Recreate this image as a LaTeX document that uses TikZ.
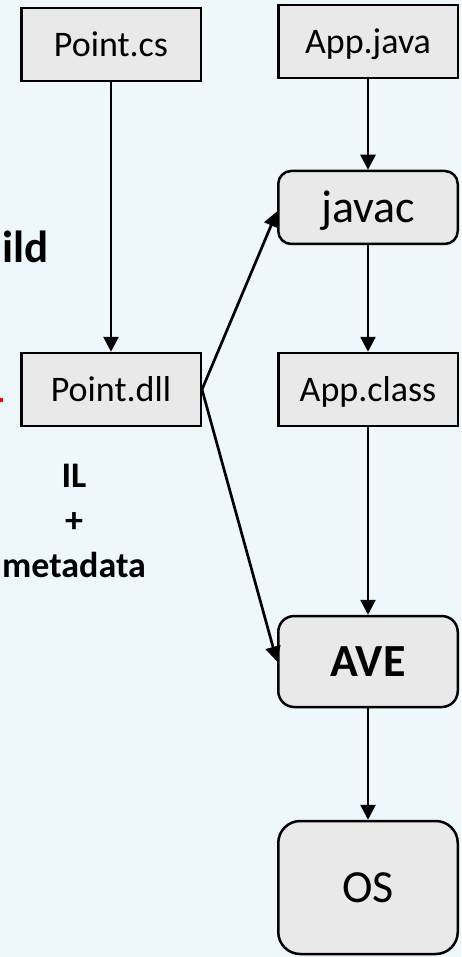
\documentclass[tikz,border=0pt]{standalone}
\usepackage{fontspec}
\setmainfont{Carlito}
\usetikzlibrary{arrows.meta}
\definecolor{bgcol}{RGB}{238,247,249}
\definecolor{boxfill}{RGB}{233,233,233}
\tikzset{
  box/.style={draw=black, line width=2.5pt, fill=boxfill, minimum width=179.5pt, minimum height=73pt,
    inner sep=0pt, text height=23.4pt, text depth=0pt, font=\fontsize{36}{40}\selectfont},
  rbox/.style={box, rounded corners=#1},
  bigtext/.style={text height=29.8pt, text depth=0pt},
  conn/.style={line width=2.7pt, -{Triangle[width=15pt,length=15pt]}},
  boldlabel/.style={inner sep=0pt, font=\bfseries\fontsize{36}{45}\selectfont}
}
\begin{document}
\begin{tikzpicture}[x=1pt,y=-1pt]
\useasboundingbox (0,0) rectangle (461,957);
\clip (0,0) rectangle (461,957);
\fill[bgcol] (0,0) rectangle (461,957);

\node[box] (pcs) at (111,44.5) {Point.cs};
\node[box] (ajava) at (368,41.5) {App.java};
\node[rbox=13pt, bigtext, font=\fontsize{46}{50}\selectfont] (javac) at (368,207.5) {javac};
\node[box] (pdll) at (111,389.5) {Point.dll};
\node[box] (aclass) at (368,389.5) {App.class};
\node[rbox=16pt, bigtext, minimum height=91pt, font=\bfseries\fontsize{46}{50}\selectfont] (ave) at (368,661.5) {AVE};
\node[rbox=22pt, bigtext, minimum height=133pt, font=\fontsize{46}{50}\selectfont] (os) at (368,887.5) {OS};

\node[inner sep=0pt, anchor=base east, font=\bfseries\fontsize{45}{50}\selectfont] (build) at (48.5,262) {Build};
\node[boldlabel, anchor=base] (il) at (74,487) {IL};
\node[boldlabel, anchor=base] (plus) at (74,532) {+};
\node[boldlabel, anchor=base] (meta) at (74,577) {metadata};

\fill[red] (0,398) rectangle (3,402);

\draw[conn] (pcs) -- (pdll);
\draw[conn] (ajava) -- (javac);
\draw[conn] (javac) -- (aclass);
\draw[conn] (aclass) -- (ave);
\draw[conn] (ave) -- (os);
\draw[conn] (pdll.east) -- ([yshift=-4pt]javac.west);
\draw[conn] (pdll.east) -- (ave.west);
\end{tikzpicture}
\end{document}
